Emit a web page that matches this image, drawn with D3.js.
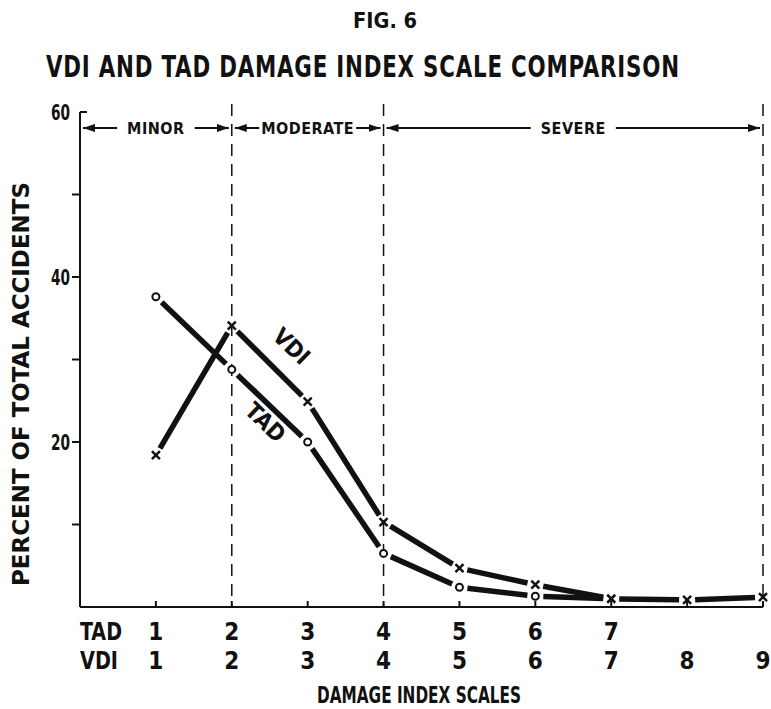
<!DOCTYPE html>
<html>
<head>
<meta charset="utf-8">
<script src="https://cdn.jsdelivr.net/npm/d3@7"></script>
<style>
  body { margin: 0; background: #fff; }
  text { font-family: "DejaVu Sans Condensed", "DejaVu Sans", sans-serif; font-stretch: condensed; font-weight: bold; fill: #111; }
</style>
</head>
<body>
<svg id="chart" width="771" height="709"></svg>
<script>
// 数据
const categories = [1, 2, 3, 4, 5, 6, 7, 8, 9]
const tadLabels = ['1', '2', '3', '4', '5', '6', '7', '', '']
const vdiLabels = ['1', '2', '3', '4', '5', '6', '7', '8', '9']
const tadValues = [37.6, 28.8, 20.0, 6.5, 2.4, 1.3, 1.0]
const vdiValues = [18.4, 34.1, 24.9, 10.3, 4.7, 2.7, 1.0, 0.85, 1.2]
const yTicks = [0, 10, 20, 30, 40, 50, 60]
const yLabels = [20, 40, 60]
const zones = [
    { label: 'MINOR', from: 0, to: 2 },
    { label: 'MODERATE', from: 2, to: 4 },
    { label: 'SEVERE', from: 4, to: 9 }
]
const dividers = [2, 4, 9]

const svg = d3.select('#chart')
const x = d3.scaleLinear().domain([0, 9]).range([80, 763])
const y = d3.scaleLinear().domain([0, 60]).range([607, 112])
const ink = '#111'

// 标题
svg.append('text').text('FIG. 6')
    .attr('x', 385).attr('y', 28).attr('text-anchor', 'middle')
    .attr('font-size', 21).attr('textLength', 64).attr('lengthAdjust', 'spacingAndGlyphs')
// 主标题：横向压缩，模仿窄体字
const title = svg.append('text').text('VDI AND TAD DAMAGE INDEX SCALE COMPARISON')
    .attr('x', 0).attr('y', 0).attr('font-size', 30).attr('letter-spacing', 1)
const tw = title.node().getComputedTextLength()
title.attr('transform', `translate(46, 77) scale(${634 / tw}, 1)`)

// y 轴
svg.append('line').attr('x1', x(0)).attr('x2', x(0)).attr('y1', y(60)).attr('y2', y(0))
    .attr('stroke', ink).attr('stroke-width', 2)
svg.selectAll('.ytick').data(yTicks.filter(d => d > 0 && d < 60)).enter().append('line')
    .attr('x1', x(0) - 8).attr('x2', x(0)).attr('y1', d => y(d)).attr('y2', d => y(d))
    .attr('stroke', ink).attr('stroke-width', 2)
svg.append('line').attr('x1', x(0)).attr('x2', x(0) + 7).attr('y1', y(60)).attr('y2', y(60))
    .attr('stroke', ink).attr('stroke-width', 2)
svg.selectAll('.ylab').data(yLabels).enter().append('text')
    .text(d => d)
    .attr('x', 70).attr('y', d => y(d) + 8).attr('text-anchor', 'end')
    .attr('font-size', 22).attr('textLength', 19).attr('lengthAdjust', 'spacingAndGlyphs')
svg.append('text').text('PERCENT OF TOTAL ACCIDENTS')
    .attr('transform', `translate(29, ${384}) rotate(-90)`)
    .attr('text-anchor', 'middle').attr('font-size', 23)
    .attr('textLength', 404).attr('lengthAdjust', 'spacingAndGlyphs')

// x 轴
svg.append('line').attr('x1', x(0)).attr('x2', x(9)).attr('y1', y(0)).attr('y2', y(0))
    .attr('stroke', ink).attr('stroke-width', 2)
svg.selectAll('.xtick').data(categories).enter().append('line')
    .attr('x1', d => x(d)).attr('x2', d => x(d)).attr('y1', y(0)).attr('y2', y(0) - 6)
    .attr('stroke', ink).attr('stroke-width', 2)

// 分区虚线
svg.selectAll('.div').data(dividers).enter().append('line')
    .attr('x1', d => x(d)).attr('x2', d => x(d)).attr('y1', 104).attr('y2', y(0))
    .attr('stroke', ink).attr('stroke-width', 1.5).attr('stroke-dasharray', '12,8')

// 分区箭头
const arrowY = 128
const defs = svg.append('defs')
defs.append('marker').attr('id', 'head').attr('viewBox', '0 0 12 8')
    .attr('refX', 12).attr('refY', 4).attr('markerWidth', 12).attr('markerHeight', 8)
    .attr('markerUnits', 'userSpaceOnUse').attr('orient', 'auto')
    .append('path').attr('d', 'M0,0 L12,4 L0,8 Z').attr('fill', ink)

zones.forEach(z => {
    const cx = (x(z.from) + x(z.to)) / 2
    const t = svg.append('text').text(z.label)
        .attr('x', cx).attr('y', arrowY + 6).attr('text-anchor', 'middle')
        .attr('font-size', 16).attr('letter-spacing', 0.5)
    const w = t.node().getComputedTextLength()
    const gap = z.label === 'MODERATE' ? 2 : 10
    svg.append('line').attr('x1', cx - w / 2 - gap).attr('x2', x(z.from) + 3)
        .attr('y1', arrowY).attr('y2', arrowY).attr('stroke', ink).attr('stroke-width', 2)
        .attr('marker-end', 'url(#head)')
    svg.append('line').attr('x1', cx + w / 2 + gap).attr('x2', x(z.to) - 3)
        .attr('y1', arrowY).attr('y2', arrowY).attr('stroke', ink).attr('stroke-width', 2)
        .attr('marker-end', 'url(#head)')
})

// 折线（标记处留空隙）
function drawSeries(values, gap) {
    const pts = values.map((v, i) => [x(categories[i]), y(v)])
    for (let i = 0; i < pts.length - 1; i++) {
        const [x0, y0] = pts[i], [x1, y1] = pts[i + 1]
        const len = Math.hypot(x1 - x0, y1 - y0)
        const ux = (x1 - x0) / len, uy = (y1 - y0) / len
        svg.append('line')
            .attr('x1', x0 + ux * gap).attr('y1', y0 + uy * gap)
            .attr('x2', x1 - ux * gap).attr('y2', y1 - uy * gap)
            .attr('stroke', ink).attr('stroke-width', 5.5)
    }
    return pts
}
const tadPts = drawSeries(tadValues, 8)
const vdiPts = drawSeries(vdiValues, 8)

// TAD 圆点
svg.selectAll('.tadm').data(tadPts.slice(0, 6)).enter().append('circle')
    .attr('cx', d => d[0]).attr('cy', d => d[1]).attr('r', 3.5)
    .attr('fill', '#fff').attr('stroke', ink).attr('stroke-width', 2)

// VDI 叉号
const cross = svg.selectAll('.vdim').data(vdiPts).enter().append('g')
    .attr('transform', d => `translate(${d[0]}, ${d[1]})`)
cross.append('path').attr('d', 'M-4,-4 L4,4 M-4,4 L4,-4')
    .attr('stroke', ink).attr('stroke-width', 2.5)

// 曲线标签
svg.append('text').text('VDI')
    .attr('transform', `translate(286, 352) rotate(44)`)
    .attr('text-anchor', 'middle').attr('font-size', 23)
svg.append('text').text('TAD')
    .attr('transform', `translate(260, 428) rotate(44)`)
    .attr('text-anchor', 'middle').attr('font-size', 23)

// 底部刻度标签
svg.append('text').text('TAD').attr('x', 80).attr('y', 640).attr('font-size', 24)
    .attr('textLength', 42).attr('lengthAdjust', 'spacingAndGlyphs')
svg.append('text').text('VDI').attr('x', 80).attr('y', 669).attr('font-size', 24)
    .attr('textLength', 38).attr('lengthAdjust', 'spacingAndGlyphs')
svg.selectAll('.tadlab').data(categories).enter().append('text')
    .text((d, i) => tadLabels[i])
    .attr('x', d => x(d)).attr('y', 640).attr('text-anchor', 'middle').attr('font-size', 24)
svg.selectAll('.vdilab').data(categories).enter().append('text')
    .text((d, i) => vdiLabels[i])
    .attr('x', d => x(d)).attr('y', 669).attr('text-anchor', 'middle').attr('font-size', 24)
svg.append('text').text('DAMAGE INDEX SCALES')
    .attr('x', 419).attr('y', 703).attr('text-anchor', 'middle').attr('font-size', 23)
    .attr('textLength', 204).attr('lengthAdjust', 'spacingAndGlyphs')
</script>
</body>
</html>
